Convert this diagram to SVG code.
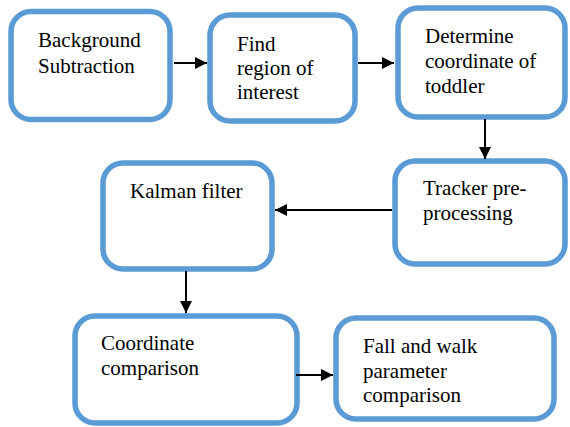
<svg xmlns="http://www.w3.org/2000/svg" width="570" height="427" viewBox="0 0 570 427">
<style>
.box{fill:#fff;stroke:#5b9bd5;stroke-width:5.5}
.c{stroke:#000;stroke-width:2;fill:none}
</style>
<defs>
<marker id="ah" markerWidth="12" markerHeight="12" refX="12" refY="6" orient="auto" markerUnits="userSpaceOnUse">
<path d="M0,0 L12,6 L0,12 Z" fill="#000"/>
</marker>
</defs>
<rect width="570" height="427" fill="#fff"/>
<g font-family="Liberation Serif, Tinos, DejaVu Serif, serif" font-size="21" fill="#000">
<g id="n1"><rect class="box" x="11" y="11.5" width="159" height="108" rx="20"/>
<text x="38" y="47">Background</text><text x="38" y="73">Subtraction</text></g>
<g id="n2"><rect class="box" x="210" y="15" width="145" height="106" rx="20"/>
<text x="237" y="51">Find</text><text x="237" y="75">region of</text><text x="237" y="99">interest</text></g>
<g id="n3"><rect class="box" x="398" y="8" width="167" height="109" rx="20"/>
<text x="425" y="43">Determine</text><text x="425" y="68">coordinate of</text><text x="425" y="93">toddler</text></g>
<g id="n4"><rect class="box" x="395" y="161" width="170" height="103" rx="20"/>
<text x="423" y="195">Tracker pre-</text><text x="423" y="220">processing</text></g>
<g id="n5"><rect class="box" x="103" y="163" width="169" height="106" rx="20"/>
<text x="130" y="198">Kalman filter</text></g>
<g id="n6"><rect class="box" x="75" y="316" width="222" height="107" rx="20"/>
<text x="101" y="350">Coordinate</text><text x="101" y="375">comparison</text></g>
<g id="n7"><rect class="box" x="336" y="318" width="218" height="101" rx="20"/>
<text x="363" y="353">Fall and walk</text><text x="363" y="378">parameter</text><text x="363" y="402">comparison</text></g>
</g>
<g id="connectors">
<line class="c" x1="174" y1="63" x2="207" y2="63" marker-end="url(#ah)"/>
<line class="c" x1="358" y1="63" x2="394" y2="63" marker-end="url(#ah)"/>
<line class="c" x1="485" y1="119" x2="485" y2="159" marker-end="url(#ah)"/>
<line class="c" x1="392" y1="210" x2="275" y2="210" marker-end="url(#ah)"/>
<line class="c" x1="186" y1="271" x2="186" y2="313" marker-end="url(#ah)"/>
<line class="c" x1="296" y1="375" x2="333" y2="375" marker-end="url(#ah)"/>
</g>
</svg>
